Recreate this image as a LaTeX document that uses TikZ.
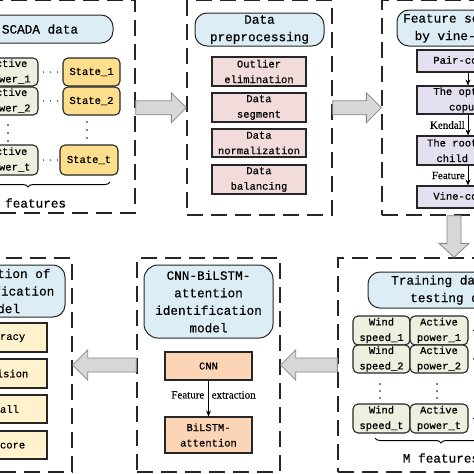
\documentclass[tikz,border=0pt]{standalone}
\usepackage{fontspec}
\newfontfamily\monof[FakeBold=0.5]{Liberation Mono}
\newfontfamily\serf[FakeBold=0.3]{Liberation Serif}
\usetikzlibrary{calc,decorations.pathreplacing,arrows.meta}
\definecolor{hdrblue}{RGB}{220,237,245}
\definecolor{pinkfill}{RGB}{242,220,219}
\definecolor{stateyel}{RGB}{252,222,140}
\definecolor{evalyel}{RGB}{255,242,204}
\definecolor{purplefill}{RGB}{229,224,240}
\definecolor{greenfill}{RGB}{235,241,222}
\definecolor{cnnfill}{RGB}{251,213,181}
\definecolor{arrowfill}{RGB}{215,215,215}
\definecolor{arrowedge}{RGB}{135,135,135}
\newcommand{\myhfont}{\monof\fontsize{12.7}{17.5}\selectfont}
\newcommand{\mybfont}{\monof\fontsize{10.5}{15.5}\selectfont}
\newcommand{\mylfont}{\serf\fontsize{11}{13}\selectfont}
\tikzset{
  panel/.style={draw=black!85, line width=1.3pt, dash pattern=on 16pt off 8pt, inner sep=0pt},
  hdr/.style={draw=black!85, line width=1pt, rounded corners=12pt, fill=hdrblue, align=center, inner sep=0pt, font=\myhfont},
  boxbase/.style={draw=black!85, line width=1.1pt, align=center, inner sep=0pt, font=\mybfont},
  greenbox/.style={boxbase, fill=greenfill, rounded corners=5pt},
  statebox/.style={boxbase, fill=stateyel, rounded corners=5pt},
  pinkbox/.style={boxbase, fill=pinkfill, minimum width=94pt},
  purplebox/.style={boxbase, fill=purplefill, minimum width=102pt},
  evalbox/.style={boxbase, fill=evalyel, minimum width=94pt, minimum height=29pt},
  cnnbox/.style={boxbase, fill=cnnfill, minimum width=87pt},
  blockarrow/.style={draw=arrowedge, fill=arrowfill, line width=0.8pt, line join=miter},
  dotcon/.style={line width=1.4pt, dash pattern=on 0pt off 7pt, dash phase=2pt, line cap=round},
  flow/.style={line width=0.9pt, -{Stealth[length=6pt,width=5pt]}},
  bracestyle/.style={decorate, decoration={brace, mirror, amplitude=5pt}, line width=1pt},
  lbl/.style={font=\mylfont, inner sep=0pt},
  ftxt/.style={font=\myhfont, inner sep=0pt}
}
\newcommand{\harrow}[3]{%
  \draw[blockarrow] ($(#1)+(0,-7)$) -- ($(#2)+({-15*#3},-7)$) -- ($(#2)+({-15*#3},-15)$) -- (#2)
    -- ($(#2)+({-15*#3},15)$) -- ($(#2)+({-15*#3},7)$) -- ($(#1)+(0,7)$) -- cycle;}
\newcommand{\varrow}[2]{%
  \draw[blockarrow] ($(#1)+(-7,0)$) -- ($(#2)+(-7,-14)$) -- ($(#2)+(-15,-14)$) -- (#2)
    -- ($(#2)+(15,-14)$) -- ($(#2)+(7,-14)$) -- ($(#1)+(7,0)$) -- cycle;}
\begin{document}
\begin{tikzpicture}[x=1pt,y=-1pt]
\useasboundingbox (0,0) rectangle (474,474);
\clip (0,0) rectangle (474,474);

% ---------- panels ----------
\node[panel, minimum width=207pt, minimum height=212.5pt] (p1) at (31.5,106.75) {};
\node[panel, minimum width=145pt, minimum height=214.5pt] (p2) at (259.5,107.75) {};
\node[panel, minimum width=172pt, minimum height=214.5pt] (p3) at (468,107.75) {};
\node[panel, minimum width=144pt, minimum height=214pt] (p4) at (0,365) {};
\node[panel, minimum width=143pt, minimum height=214pt] (p5) at (208.5,365) {};
\node[panel, minimum width=232pt, minimum height=214pt] (p6) at (454,365) {};

% ---------- panel 1: SCADA data ----------
\node[hdr, minimum width=146pt, minimum height=28pt] (h1) at (40,29) {SCADA data};
\node[greenbox, minimum width=59pt, minimum height=28pt] (a1) at (8.5,72) {Active\\power\_1};
\node[greenbox, minimum width=59pt, minimum height=28pt] (a2) at (8.5,101) {Active\\power\_2};
\node[greenbox, minimum width=59pt, minimum height=30pt] (at) at (8.5,160) {Active\\power\_t};
\node[statebox, minimum width=57pt, minimum height=28pt] (s1) at (91.5,72) {State\_1};
\node[statebox, minimum width=57pt, minimum height=28pt] (s2) at (91.5,101) {State\_2};
\node[statebox, minimum width=58pt, minimum height=30pt] (st) at (89,160) {State\_t};
\draw[dotcon] (a1.east) -- (s1.west);
\draw[dotcon] (a2.east) -- (s2.west);
\draw[dotcon] (at.east) -- (st.west);
\foreach \yy in {125,133,141} \fill (8,\yy) circle (0.8);
\foreach \yy in {122,130,138} \fill (87,\yy) circle (0.8);
\coordinate (b1l) at (-54,182);
\coordinate (b1r) at (110,182);
\draw[bracestyle] (b1l) -- (b1r);
\node[ftxt] (f1) at (28,203) {M features};

% ---------- panel 2: preprocessing ----------
\node[hdr, minimum width=129pt, minimum height=33pt] (h2) at (259.5,29.5) {Data\\preprocessing};
\node[pinkbox, minimum height=29pt] (q1) at (259,71.5) {Outlier\\elimination};
\node[pinkbox, minimum height=29pt] (q2) at (259,107.5) {Data\\segment};
\node[pinkbox, minimum height=28pt] (q3) at (259,143) {Data\\normalization};
\node[pinkbox, minimum height=29pt] (q4) at (259,179.5) {Data\\balancing};

% ---------- panel 3: feature selection ----------
\node[hdr, minimum width=142pt, minimum height=36pt] (h3) at (468,28) {Feature selection\\by vine-copula};
\node[purplebox, minimum height=22pt] (v1) at (468,61) {Pair-copula};
\node[purplebox, minimum height=28pt] (v2) at (468,100) {The optimal\\copula};
\node[purplebox, minimum height=29pt] (v3) at (468,150.5) {The root node\\child node};
\node[purplebox, minimum height=22pt] (v4) at (468,197) {Vine-copula};
\draw[flow] (v1.south) -- (v2.north);
\draw[flow] (v2.south) -- (v3.north);
\draw[flow] (v3.south) -- (v4.north);
\node[lbl, anchor=east] (k1) at ($(v2.south)!0.5!(v3.north)+(-3,0)$) {Kendall};
\node[lbl, anchor=east] (k2) at ($(v3.south)!0.5!(v4.north)+(-3,0)$) {Feature};

% ---------- panel 4: evaluation ----------
\node[hdr, minimum width=128pt, minimum height=52pt] (h4) at (1,291) {Evaluation of\\identification\\model};
\node[evalbox] (e1) at (0,337.5) {Accuracy};
\node[evalbox] (e2) at (0,373.5) {Precision};
\node[evalbox, minimum height=28pt] (e3) at (0,409) {Recall};
\node[evalbox, minimum height=28pt] (e4) at (0,445) {F1-score};

% ---------- panel 5: model ----------
\node[hdr, rounded corners=14pt, minimum width=129pt, minimum height=73pt] (h5) at (208.5,301.5) {CNN-BiLSTM-\\attention\\identification\\model};
\node[cnnbox, minimum height=28pt] (c1) at (208.5,366) {CNN};
\node[cnnbox, minimum height=36pt] (c2) at (208.5,435) {BiLSTM-\\attention};
\draw[flow] (c1.south) -- (c2.north);
\node[lbl, anchor=east] (fe1) at ($(c1.south)!0.4!(c2.north)+(-4,0)$) {Feature};
\node[lbl, anchor=west] (fe2) at ($(c1.south)!0.4!(c2.north)+(3,0)$) {extraction};

% ---------- panel 6: training / testing ----------
\node[hdr, minimum width=176pt, minimum height=36pt] (h6) at (456,290) {Training data and\\testing data};
\node[greenbox, minimum width=57pt, minimum height=29pt] (w1) at (381.5,330.5) {Wind\\speed\_1};
\node[greenbox, minimum width=58pt, minimum height=29pt] (g1) at (439,330.5) {Active\\power\_1};
\node[greenbox, minimum width=57pt, minimum height=28pt] (w2) at (381.5,359) {Wind\\speed\_2};
\node[greenbox, minimum width=58pt, minimum height=28pt] (g2) at (439,359) {Active\\power\_2};
\node[greenbox, minimum width=57pt, minimum height=29pt] (wt) at (381.5,418.5) {Wind\\speed\_t};
\node[greenbox, minimum width=58pt, minimum height=29pt] (gt) at (439,418.5) {Active\\power\_t};
\coordinate (r1) at (493,330.5);
\coordinate (r2) at (493,359);
\coordinate (rt) at (493,418.5);
\draw[dotcon] (g1.east) -- (r1);
\draw[dotcon] (g2.east) -- (r2);
\draw[dotcon] (gt.east) -- (rt);
\foreach \yy in {384,391,398} {\fill (380,\yy) circle (0.8); \fill (437,\yy) circle (0.8);}
\coordinate (b6l) at (375,438);
\coordinate (b6r) at (507,438);
\draw[bracestyle] (b6l) -- (b6r);
\node[ftxt] (f6) at (441,458) {M features};

% ---------- block arrows between panels ----------
\coordinate (t1) at (p1.east|-p2.west);
\harrow{t1}{p2.west}{1}
\harrow{p2.east}{p3.west}{1}
\coordinate (t3) at (p3.south-|p6.north);
\varrow{t3}{p6.north}
\coordinate (t4) at (p5.east|-p6.west);
\harrow{p6.west}{t4}{-1}
\coordinate (t5) at (p4.east|-p5.west);
\harrow{p5.west}{t5}{-1}
\end{tikzpicture}
\end{document}
